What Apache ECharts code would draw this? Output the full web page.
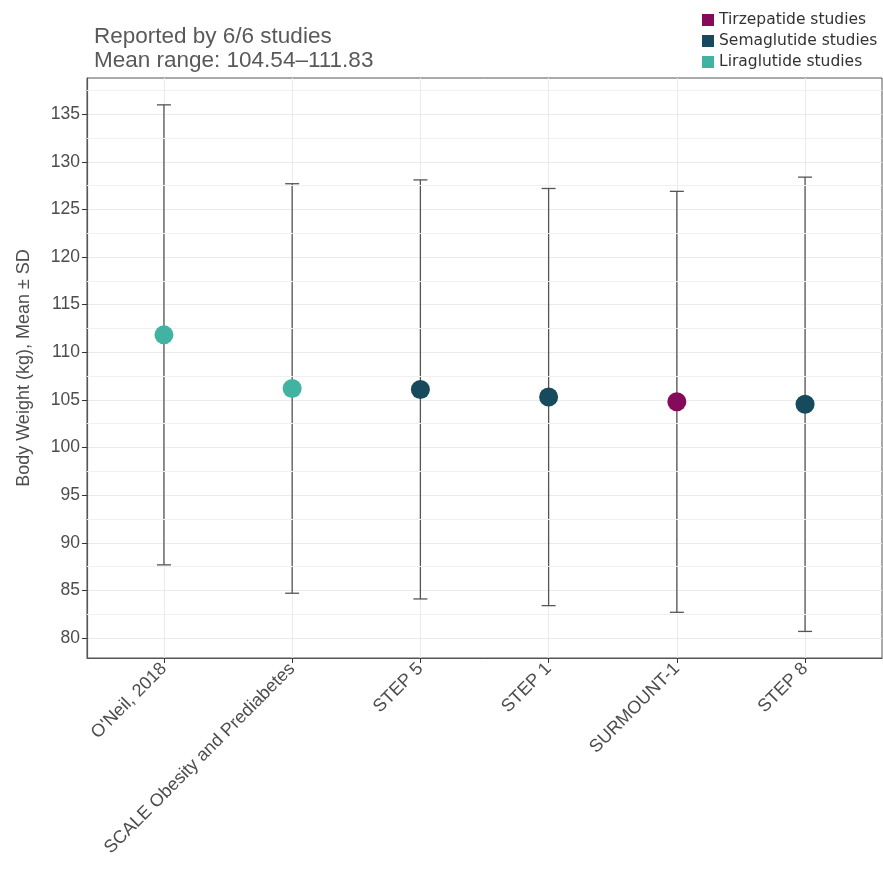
<!DOCTYPE html>
<html>
<head>
<meta charset="utf-8">
<script src="https://cdn.jsdelivr.net/npm/echarts@6/dist/echarts.min.js"></script>
<style>html,body{margin:0;padding:0;background:#fff}#c{width:883px;height:870px}</style>
</head>
<body>
<div id="c"></div>
<script>
var studies = ["O'Neil, 2018", "SCALE Obesity and Prediabetes", "STEP 5", "STEP 1", "SURMOUNT-1", "STEP 8"];
var drugGroup = ["Liraglutide studies", "Liraglutide studies", "Semaglutide studies", "Semaglutide studies", "Tirzepatide studies", "Semaglutide studies"];
var means = [111.83, 106.2, 106.1, 105.3, 104.8, 104.54];
var sds = [24.15, 21.5, 22.0, 21.9, 22.1, 23.85];
var groups = ["Tirzepatide studies", "Semaglutide studies", "Liraglutide studies"];
var groupColors = ["#850A5B", "#174A5C", "#42B3A2"];
var yTicks = [80, 85, 90, 95, 100, 105, 110, 115, 120, 125, 130, 135];
var yMinorGrid = [82.5, 87.5, 92.5, 97.5, 102.5, 107.5, 112.5, 117.5, 122.5, 127.5, 132.5, 137.5];
var xPositions = [1, 2, 3, 4, 5, 6];

var font = 'Liberation Sans, Arial, sans-serif';
var chart = echarts.init(document.getElementById('c'));

var errData = xPositions.map(function (x, i) { return [x, means[i] - sds[i], means[i] + sds[i]]; });

var series = [{
  type: 'custom',
  name: 'err',
  silent: true,
  z: 3,
  renderItem: function (params, api) {
    var x = api.value(0);
    var lo = api.coord([x, api.value(1)]);
    var hi = api.coord([x, api.value(2)]);
    var hw = 7;
    var st = { stroke: '#555555', lineWidth: 1.3 };
    return {
      type: 'group',
      children: [
        { type: 'line', shape: { x1: lo[0], y1: lo[1], x2: hi[0], y2: hi[1] }, style: st },
        { type: 'line', shape: { x1: lo[0] - hw, y1: lo[1], x2: lo[0] + hw, y2: lo[1] }, style: st },
        { type: 'line', shape: { x1: hi[0] - hw, y1: hi[1], x2: hi[0] + hw, y2: hi[1] }, style: st }
      ]
    };
  },
  encode: { x: 0, y: [1, 2] },
  data: errData
}, {
  type: 'line',
  name: 'minor',
  silent: true,
  data: [],
  markLine: {
    silent: true,
    symbol: ['none', 'none'],
    label: { show: false },
    lineStyle: { color: '#f0f0f0', width: 1, type: 'solid' },
    data: yMinorGrid.map(function (v) { return { yAxis: v }; })
  },
  z: 1
}];

groups.forEach(function (g, gi) {
  var d = [];
  xPositions.forEach(function (x, i) { if (drugGroup[i] === g) d.push([x, means[i]]); });
  series.push({
    type: 'scatter',
    name: g,
    data: d,
    symbolSize: 19,
    itemStyle: { color: groupColors[gi], opacity: 1 },
    z: 5
  });
});

chart.setOption({
  animation: false,
  backgroundColor: '#ffffff',
  title: {
    text: 'Reported by 6/6 studies\nMean range: 104.54\u2013111.83',
    left: 89, top: 20,
    textStyle: { fontFamily: font, fontSize: 22.5, fontWeight: 'normal', color: '#595959', lineHeight: 24 }
  },
  legend: {
    data: groups.map(function (g) { return { name: g, icon: 'rect' }; }),
    orient: 'vertical',
    left: 697, top: 7,
    itemWidth: 12, itemHeight: 12, itemGap: 5,
    textStyle: { fontFamily: 'DejaVu Sans, sans-serif', fontSize: 15.5, color: '#333333', lineHeight: 15 },
    selectedMode: false
  },
  grid: { left: 87, right: 1, top: 78, bottom: 212, show: true, borderColor: '#555555', borderWidth: 1, containLabel: false },
  xAxis: {
    type: 'value',
    min: 0.4, max: 6.6,
    axisLine: { show: true, lineStyle: { color: '#555555', width: 1.2 } },
    axisTick: { show: true, length: 5, customValues: xPositions, lineStyle: { color: '#333333' } },
    axisLabel: {
      customValues: xPositions,
      rotate: 45,
      fontFamily: font, fontSize: 18, color: '#4d4d4d',
      margin: 8,
      formatter: function (v) { return studies[Math.round(v) - 1] || ''; }
    },
    splitLine: { show: true, lineStyle: { color: '#ebebeb', width: 1 } }
  },
  yAxis: {
    type: 'value',
    min: 77.9, max: 138.8,
    name: 'Body Weight (kg), Mean \u00b1 SD',
    nameLocation: 'middle',
    nameGap: 54,
    nameTextStyle: { fontFamily: font, fontSize: 18, color: '#4d4d4d' },
    axisLine: { show: true, lineStyle: { color: '#555555', width: 1.2 } },
    axisTick: { show: true, length: 5, customValues: yTicks, lineStyle: { color: '#333333' } },
    axisLabel: { customValues: yTicks, fontFamily: font, fontSize: 17.5, color: '#4d4d4d', margin: 7 },
    splitLine: { show: true, lineStyle: { color: '#ebebeb', width: 1.2 } }
  },
  series: series
});
</script>
</body>
</html>
